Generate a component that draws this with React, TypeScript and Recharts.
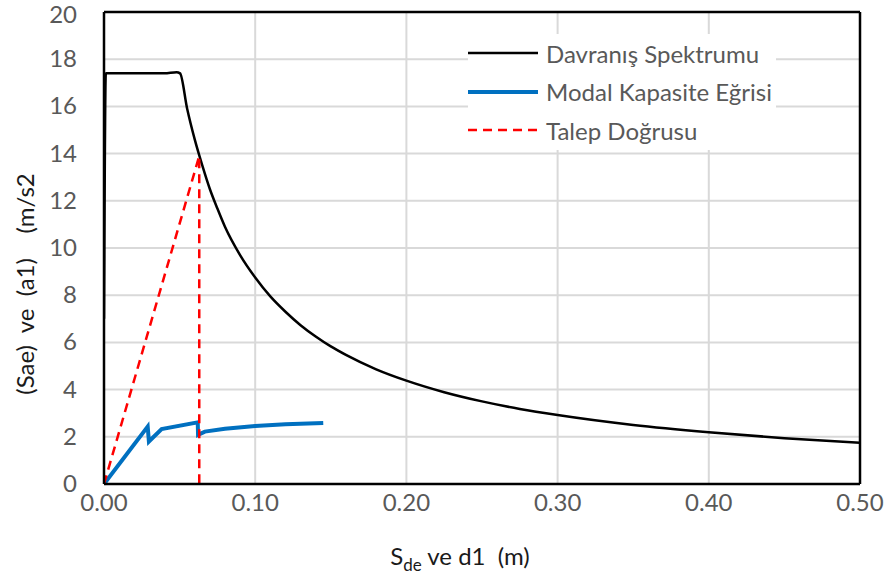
import {
  LineChart, Line, XAxis, YAxis, CartesianGrid, ReferenceLine
} from 'recharts';

// Davranış Spektrumu (black)
const spectrumX = [0, 0.0012, 0.01, 0.02, 0.03, 0.04, 0.048, 0.0503, 0.055, 0.06, 0.065, 0.07, 0.075, 0.08, 0.09, 0.10, 0.11, 0.12, 0.13, 0.14, 0.15, 0.16, 0.18, 0.20, 0.225, 0.25, 0.275, 0.30, 0.35, 0.40, 0.45, 0.50];
const spectrumY = [7.0, 17.4, 17.4, 17.4, 17.4, 17.4, 17.45, 17.4, 15.9, 14.6, 13.5, 12.5, 11.67, 10.9, 9.7, 8.75, 7.95, 7.3, 6.73, 6.25, 5.83, 5.47, 4.86, 4.38, 3.89, 3.5, 3.18, 2.92, 2.5, 2.19, 1.94, 1.75];

// Modal Kapasite Eğrisi (blue)
const capacityX = [0, 0.0289, 0.0297, 0.0381, 0.062, 0.0622, 0.0667, 0.08, 0.10, 0.12, 0.145];
const capacityY = [0, 2.43, 1.8, 2.33, 2.61, 2.08, 2.22, 2.34, 2.46, 2.53, 2.58];

// Talep Doğrusu (red dashed)
const demandX = [0, 0.063, 0.063];
const demandY = [0, 13.9, 0];

const xTicks = [0, 0.1, 0.2, 0.3, 0.4, 0.5];
const yTicks = [0, 2, 4, 6, 8, 10, 12, 14, 16, 18, 20];

const FONT = 'Lato, Calibri, sans-serif';

const zip = (xs: number[], ys: number[]) => xs.map((x, i) => ({ x, y: ys[i] }));

const series = [
  { name: 'Davranış Spektrumu', data: zip(spectrumX, spectrumY), color: '#000000', width: 2.5, dash: undefined as string | undefined, curve: 'monotone' as const },
  { name: 'Modal Kapasite Eğrisi', data: zip(capacityX, capacityY), color: '#0070C0', width: 4, dash: undefined, curve: 'linear' as const },
  { name: 'Talep Doğrusu', data: zip(demandX, demandY), color: '#FF0000', width: 2.5, dash: '9 6', curve: 'linear' as const },
];

const LegendBox = () => (
  <div style={{ position: 'absolute', left: 468, top: 34, fontFamily: FONT, fontSize: 24, color: '#595959', background: '#fff' }}>
    {series.map(s => (
      <div key={s.name} style={{ display: 'flex', alignItems: 'center', height: 38.5 }}>
        <svg width={78} height={10}>
          <line x1={0} x2={70} y1={5} y2={5} stroke={s.color} strokeWidth={s.width} strokeDasharray={s.dash} />
        </svg>
        <span style={{ whiteSpace: 'nowrap', paddingRight: 4 }}>{s.name}</span>
      </div>
    ))}
  </div>
);

// y tick: keep the top label inside the picture
const YTick = ({ x, y, payload }: any) => (
  <text x={x} y={y} dy={payload.value === 20 ? 11 : 8} textAnchor="end" fontFamily={FONT} fontSize={24} fill="#595959">
    {payload.value}
  </text>
);

export default function App() {
  return (
    <div style={{ position: 'absolute', left: 0, top: 0, width: 890, height: 574, background: '#fff' }}>
      <LineChart width={890} height={574} margin={{ top: 12, right: 30, left: 64, bottom: 40 }}>
        <CartesianGrid stroke="#d9d9d9" strokeWidth={2} />
        <XAxis
          type="number"
          dataKey="x"
          domain={[0, 0.5]}
          ticks={xTicks}
          tickFormatter={(v) => Number(v).toFixed(2)}
          tick={{ fill: '#595959', fontSize: 24, fontFamily: FONT }}
          tickLine={false}
          tickSize={0}
          tickMargin={10}
          axisLine={{ stroke: '#000', strokeWidth: 2.5 }}
          height={50}
          allowDataOverflow
          label={{
            content: () => (
              <text x={460} y={565} textAnchor="middle" fontFamily={FONT} fontSize={24} fill="#1a1a1a">
                S<tspan fontSize={17} dy={6}>de</tspan><tspan dy={-6}>{' ve d1\u00a0\u00a0(m)'}</tspan>
              </text>
            ),
          }}
        />
        <YAxis
          type="number"
          domain={[0, 20]}
          ticks={yTicks}
          tick={<YTick />}
          tickLine={false}
          tickSize={0}
          tickMargin={27}
          axisLine={{ stroke: '#000', strokeWidth: 2.5 }}
          width={40}
          label={{
            content: () => (
              <text x={34} y={284} transform="rotate(-90, 34, 284)" textAnchor="middle" fontFamily={FONT} fontSize={24} fill="#1a1a1a">
                {'(Sae)\u00a0\u00a0ve\u00a0\u00a0(a1)\u00a0\u00a0\u00a0\u00a0(m/s2'}
              </text>
            ),
          }}
        />
        <ReferenceLine y={20} stroke="#000" strokeWidth={2.5} />
        <ReferenceLine x={0.5} stroke="#000" strokeWidth={2.5} />
        {series.map(s => (
          <Line
            key={s.name}
            data={s.data}
            dataKey="y"
            name={s.name}
            type={s.curve}
            stroke={s.color}
            strokeWidth={s.width}
            strokeDasharray={s.dash}
            dot={false}
            activeDot={false}
            isAnimationActive={false}
          />
        ))}
      </LineChart>
      <LegendBox />
    </div>
  );
}
